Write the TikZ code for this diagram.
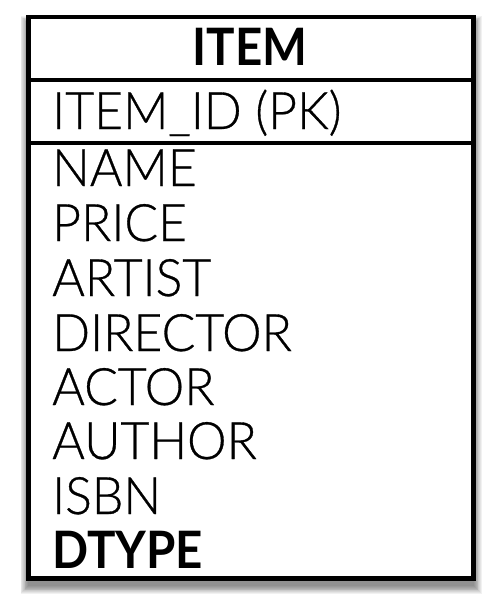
\documentclass[tikz,border=0pt]{standalone}
\usepackage{fontspec}
\setmainfont{Lato}[UprightFont=* Light, BoldFont=* Bold,
  UprightFeatures={FakeStretch=0.967, FakeBold=0.6},
  BoldFeatures={FakeStretch=0.92}]
\begin{document}
\begin{tikzpicture}[x=1pt,y=-1pt,
  field/.style={anchor=base west, inner sep=0pt, font=\fontsize{51.6}{60}\selectfont},
  title/.style={anchor=base, inner sep=0pt, font=\fontsize{51.6}{60}\selectfont\bfseries},
  border/.style={line width=4.5pt, draw=black},
  sep/.style={line width=3.5pt, draw=black}]
\useasboundingbox (0,0) rectangle (494,598);
% shadow
\foreach \r in {1,...,10}{
  \fill[black, opacity=0.055] (28.5-0.8*\r, 24-0.8*\r) rectangle (473.5+0.8*\r, 585.5+0.8*\r);
}
\node[border, fill=white, minimum width=445pt, minimum height=561.5pt, inner sep=0pt] (box) at (251,297.75) {};
\coordinate (l1) at (28.5,80);
\coordinate (l2) at (28.5,143);
\draw[sep] (l1) -- (l1 -| box.east);
\draw[sep] (l2) -- (l2 -| box.east);
\node[title] (item) at (250,65) {ITEM};
\node[field] (pk) at (52,129) {ITEM\_ID (PK)};
\node[field] (name) at (52,186) {NAME};
\node[field] (price) at (52,241) {PRICE};
\node[field] (artist) at (52,296) {ARTIST};
\node[field] (director) at (52,351) {DIRECTOR};
\node[field] (actor) at (52,405) {ACTOR};
\node[field] (author) at (52,459) {AUTHOR};
\node[field] (isbn) at (52,514) {ISBN};
\node[field, font=\fontsize{51.6}{60}\selectfont\bfseries] (dtype) at (52,568) {DTYPE};
\end{tikzpicture}
\end{document}
